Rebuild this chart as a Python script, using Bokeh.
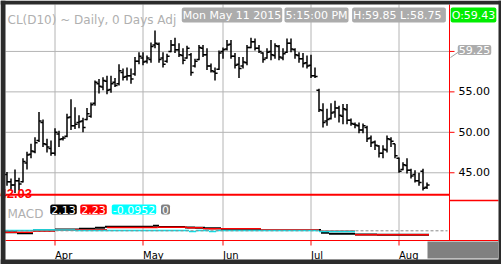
from bokeh.plotting import figure
from bokeh.models import Range1d, Label, ColumnDataSource
from bokeh.transform import dodge
from bokeh.core.properties import value
from bokeh.embed import file_html
from bokeh.resources import INLINE

# ---------------- data ----------------
high = [45.1, 44.3, 45.4, 44.4, 46.8, 47.6, 48.6, 49.4, 52.5, 51.6,
        49.2, 49.0, 50.5, 50.2, 49.5, 52.3, 54.1, 53.1, 52.1, 51.8,
        53.0, 53.7, 56.4, 56.6, 56.8, 57.0, 57.0, 56.7, 58.4, 57.9,
        58.0, 57.9, 59.3, 59.9, 59.9, 59.5, 61.1, 62.6, 61.1, 59.9,
        59.7, 61.4, 61.7, 61.0, 60.4, 60.7, 59.8, 59.1, 60.8, 60.8,
        60.4, 58.5, 58.0, 60.1, 60.5, 61.4, 61.4, 59.8, 59.3, 59.3,
        60.8, 61.7, 61.6, 60.8, 59.9, 60.4, 61.4, 61.0, 60.8, 60.4,
        61.6, 61.6, 60.4, 59.9, 59.8, 59.5, 59.6, 58.0, 55.4, 53.6,
        52.9, 53.6, 53.9, 53.3, 53.5, 53.5, 51.7, 51.2, 51.2, 51.1,
        50.8, 49.6, 49.0, 48.4, 48.4, 49.6, 49.4, 48.6, 46.9, 46.3,
        46.8, 45.5, 45.3, 45.0, 45.5, 43.8]
low = [43.4, 42.8, 42.5, 42.8, 43.8, 45.4, 46.8, 47.4, 48.8, 48.2,
       47.5, 47.1, 47.1, 48.2, 49.0, 49.4, 50.3, 50.4, 50.5, 50.0,
       51.5, 51.8, 53.3, 54.8, 55.2, 54.7, 54.9, 55.6, 55.8, 56.4,
       56.4, 56.0, 57.0, 58.4, 58.3, 58.5, 58.6, 60.4, 58.6, 58.0,
       58.6, 59.9, 59.8, 59.3, 58.4, 59.1, 57.0, 58.0, 58.9, 59.3,
       57.7, 57.4, 56.4, 57.7, 59.1, 60.1, 59.1, 57.9, 56.7, 57.9,
       58.3, 60.4, 60.1, 59.8, 58.6, 59.1, 58.9, 59.1, 58.9, 58.9,
       59.8, 59.9, 59.1, 58.6, 58.0, 57.9, 56.7, 56.7, 52.5, 50.6,
       50.8, 51.6, 51.8, 51.2, 51.0, 51.0, 50.8, 50.5, 49.9, 49.9,
       48.8, 48.2, 47.8, 46.9, 46.8, 47.5, 48.2, 46.8, 45.0, 45.3,
       44.9, 44.3, 43.8, 43.4, 42.8, 43.0]
open_ = [44.8, 43.9, 43.5, 44.0, 43.9, 46.2, 47.3, 47.6, 49.0, 51.2,
         48.5, 48.0, 47.4, 49.8, 49.2, 49.5, 51.9, 50.8, 51.2, 51.4,
         51.6, 52.0, 53.6, 56.0, 55.6, 56.3, 55.3, 56.2, 56.0, 57.4,
         56.9, 57.0, 57.2, 58.8, 59.2, 58.8, 59.0, 60.8, 60.9, 59.2,
         58.8, 60.0, 60.8, 60.2, 59.5, 59.2, 59.6, 58.2, 59.0, 60.4,
         59.6, 58.2, 57.5, 57.8, 60.0, 60.3, 60.9, 59.4, 58.4, 58.2,
         58.6, 60.5, 61.2, 60.4, 59.8, 59.2, 60.0, 59.5, 60.6, 59.2,
         59.9, 61.0, 60.2, 59.5, 59.1, 58.6, 58.3, 57.0, 55.2, 52.7,
         51.4, 51.7, 52.5, 53.0, 52.0, 52.8, 51.5, 51.0, 50.8, 50.3,
         50.6, 49.3, 48.8, 48.3, 47.4, 47.8, 49.1, 48.6, 46.8, 45.4,
         45.9, 45.3, 44.8, 44.0, 45.2, 43.2]
close = [43.9, 43.5, 44.0, 43.6, 46.4, 47.2, 47.7, 48.7, 51.4, 48.6,
         48.2, 47.4, 50.0, 49.1, 49.3, 51.8, 50.8, 51.0, 51.3, 50.6,
         52.3, 53.4, 56.2, 55.7, 56.4, 55.2, 56.0, 55.8, 57.6, 56.8,
         57.0, 56.6, 58.8, 59.4, 58.7, 59.2, 60.6, 61.0, 59.0, 58.4,
         59.4, 60.8, 60.2, 59.6, 58.9, 60.4, 57.4, 58.8, 60.5, 59.6,
         58.2, 57.6, 57.3, 59.8, 60.2, 60.8, 59.4, 58.3, 57.9, 58.7,
         60.5, 61.2, 60.4, 60.0, 59.0, 59.9, 59.6, 60.7, 59.3, 59.7,
         61.0, 60.3, 59.6, 59.1, 58.5, 58.2, 57.0, 56.9, 52.8, 51.2,
         51.6, 52.4, 53.0, 52.1, 52.9, 51.5, 51.1, 50.9, 50.3, 50.8,
         49.2, 48.7, 48.4, 47.4, 47.9, 49.2, 48.9, 47.1, 45.2, 46.0,
         45.3, 44.6, 44.0, 43.8, 43.1, 43.5]

month_names = ["Apr", "May", "Jun", "Jul", "Aug"]
month_first_bar = [12, 34, 54, 76, 98]
price_ticks = [45, 50, 55, 60]

# MACD panel (step pieces: start bar, end bar, value)
macd_x0 = [-0.5, 2.5, 6.5, 12, 18, 22, 24.5, 36.5, 38, 44.5, 47, 49.5, 53.5, 56.5, 63.5, 78.5, 80.5, 87, 92.5]
macd_x1 = [2.5, 6.5, 12, 18, 22, 24.5, 36.5, 38, 44.5, 47, 49.5, 53.5, 56.5, 63.5, 78.5, 80.5, 87, 92.5, 105.5]
macd_v = [-0.9, -1.6, 0.2, 0.8, 1.25, 1.9, 2.5, 3.1, 2.4, 2.1, 1.9, 1.6, 1.1, 0.6, 0.5, -1.25, -1.9, -2.3, -2.5]
signal_x0 = [-0.5, 6.5, 12, 25, 37.7, 45, 49, 63.5, 78, 87]
signal_x1 = [6.5, 12, 25, 37.7, 45, 49, 63.5, 78, 87, 105.5]
signal_v = [-0.9, -0.2, 0.6, 2.0, 2.25, 1.9, 1.25, 0.6, -0.25, -2.5]
diff_x0 = [-0.5, 6.5, 17, 45.5, 47.3, 50.5, 52.3, 78]
diff_x1 = [6.5, 17, 45.5, 47.3, 50.5, 52.3, 78, 87]
diff_v = [0.2, 0.5, 0.2, -0.5, 0.2, -0.5, 0.2, -0.45]

symbol_text = "CL(D10) ~ Daily, 0 Days Adj"
date_text = "Mon May 11 2015"
time_text = "5:15:00 PM"
hl_text = "H:59.85  L:58.75"
open_text = "O:59.43"
last_price = 59.25
low_mark = 42.03
macd_now = "2.13"
signal_now = "2.23"
diff_now = "-0.0952"
zero_now = "0"

# ---------------- layout (pixel geometry) ----------------
W, H = 501, 264
FL, FT, FR, FB = 5, 4, 449, 240          # chart area edges in px
RB, BB = 498, 259                         # inner edge of the dark frame (right, bottom)
BAR_PX = 4.0
X0 = -0.375                               # bar index at px FL
Y_TOP = 65.80                             # price at px FT
PX_PER_USD = 8.09
MACD_ZERO_PY = 230.3
PX_PER_MACD = 1.6
SEP_PY = 194.3                            # red separator under the price panel

def xd(px):
    return X0 + (px - FL) / BAR_PX

def yd(py):
    return Y_TOP - (py - FT) / PX_PER_USD

def md(py):
    return (MACD_ZERO_PY - py) / PX_PER_MACD

FONT = "DejaVu Sans"
GRID = "#b4b4b4"
DARK = "#2b2b2b"

p = figure(width=W, height=H, x_range=Range1d(xd(0), xd(W)), y_range=Range1d(yd(H), yd(0)),
           output_backend="svg", toolbar_location=None, x_axis_location=None,
           y_axis_location=None, title=None, min_border=0,
           background_fill_color="white", border_fill_color="white", outline_line_color=None)
p.extra_y_ranges = {"macd": Range1d(md(H), md(0))}
for g in list(p.grid):
    g.visible = False

# grid lines
p.segment(x0=xd(FL), x1=xd(FR), y0=price_ticks, y1=price_ticks, line_color=GRID, line_width=1)
p.segment(x0=month_first_bar, x1=month_first_bar, y0=yd(FT), y1=yd(FB), line_color=GRID, line_width=1)

# MACD lines
p.segment(x0=macd_x0, x1=macd_x1, y0=macd_v, y1=macd_v, y_range_name="macd",
          line_color="black", line_width=2)
p.segment(x0=signal_x0, x1=signal_x1, y0=signal_v, y1=signal_v, y_range_name="macd",
          line_color="red", line_width=1.5)
p.segment(x0=diff_x0, x1=diff_x1, y0=diff_v, y1=diff_v, y_range_name="macd",
          line_color="#00e5ee", line_width=1.5)
p.segment(x0=xd(FL), x1=xd(FR - 2), y0=0, y1=0, y_range_name="macd",
          line_color="#8a8a8a", line_dash="3 2", line_width=1)

# OHLC bars
src = ColumnDataSource(dict(i=list(range(len(high))), o=open_, h=high, l=low, c=close))
p.segment(x0="i", y0="l", x1="i", y1="h", source=src, line_color="black", line_width=1.5)
p.segment(x0=dodge("i", -0.65), y0="o", x1="i", y1="o", source=src, line_color="black", line_width=1.5)
p.segment(x0="i", y0="c", x1=dodge("i", 0.65), y1="c", source=src, line_color="black", line_width=1.5)

# separator line under price panel + low marker text
p.segment(x0=xd(FL), x1=xd(FR), y0=yd(SEP_PY), y1=yd(SEP_PY), line_color="red", line_width=2)
p.text(x=[xd(31.5)], y=[yd(193)], text=[f"{low_mark:.2f}"], text_align="right",
       text_baseline="alphabetic", text_color="red", text_font=value("Liberation Sans"),
       text_font_style="bold", text_font_size="13px")

# right price axis (red line, red ticks, labels sitting on their ticks)
p.segment(x0=xd(FR), x1=xd(FR), y0=yd(FT), y1=yd(FB), line_color="red", line_width=1)
p.segment(x0=xd(FR), x1=xd(FR + 5), y0=price_ticks, y1=price_ticks, line_color="red", line_width=1)
p.text(x=xd(458), y=[t + 0.8 / PX_PER_USD for t in price_ticks],
       text=[f"{t:.2f}" for t in price_ticks], text_align="left", text_baseline="alphabetic",
       text_color="black", text_font=value(FONT), text_font_size="11px")
p.segment(x0=xd(FR), x1=xd(RB), y0=yd(200), y1=yd(200), line_color="red", line_width=1.5)

# bottom time axis
p.segment(x0=xd(FL), x1=xd(RB), y0=yd(FB), y1=yd(FB), line_color="red", line_width=1)
p.segment(x0=month_first_bar, x1=month_first_bar, y0=yd(FB), y1=yd(FB + 5), line_color="red", line_width=1)
p.text(x=month_first_bar, y=yd(254.5), text=month_names, text_align="left",
       text_baseline="alphabetic", text_color="black", text_font=value(FONT), text_font_size="10px")
p.quad(left=xd(427), right=xd(497.5), top=yd(241), bottom=yd(258), fill_color="#808080", line_color=None)

# leader from the last-price tag to the axis
p.segment(x0=xd(FR + 1), x1=xd(458), y0=last_price, y1=yd(51.5), line_color="#a0a0a0", line_width=1)

# dark frame round the whole chart
p.quad(left=[xd(0), xd(0), xd(RB), xd(0)], right=[xd(FL), xd(W), xd(W), xd(W)],
       top=[yd(0), yd(0), yd(0), yd(BB)], bottom=[yd(H), yd(FT), yd(H), yd(H)],
       fill_color=DARK, line_color=None)

# header and legend texts
p.add_layout(Label(x=xd(7), y=yd(19.5), text=symbol_text, text_font=FONT,
                   text_font_size="12px", text_color="#b0b0b0", text_baseline="alphabetic"))
p.add_layout(Label(x=xd(7), y=yd(213.5), text="MACD", text_font=FONT,
                   text_font_size="12px", text_color="#b0b0b0", text_baseline="alphabetic"))

def box(text, cx, cy, bg, size="11px"):
    p.add_layout(Label(x=xd(cx), y=yd(cy), text=text, text_font=FONT, text_font_size=size,
                       text_color="white", text_align="center", text_baseline="middle",
                       background_fill_color=bg, background_fill_alpha=1.0,
                       border_line_color=None, padding=1, border_radius=2))

box(date_text, 231.5, 14.5, "#acacac")
box(time_text, 316, 14.5, "#acacac")
box(hl_text, 398.5, 14.5, "#acacac")
box(open_text, 473, 14.5, "#00ee00")
box(f"{last_price:.2f}", 474, 49.5, "#acacac")
box(macd_now, 63, 209, "black")
box(signal_now, 93, 209, "red")
box(diff_now, 133.5, 209, "#00ffff")
box(zero_now, 165, 209, "#808080")

open("out.html", "w").write(file_html(p, INLINE))
